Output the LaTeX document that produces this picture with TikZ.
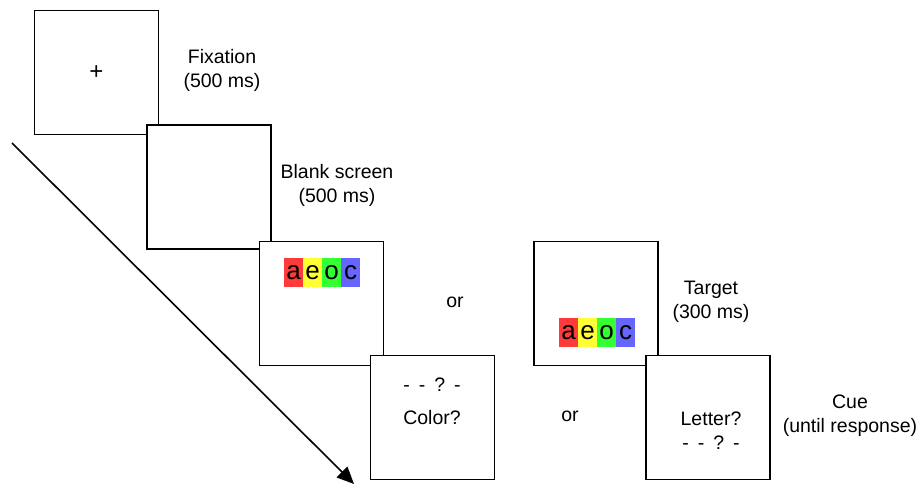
\documentclass[tikz,border=0pt]{standalone}
\usepackage{fontspec}
\setmainfont{Liberation Sans}
\usetikzlibrary{arrows.meta}
\definecolor{cred}{HTML}{FF3A3A}
\definecolor{cyel}{HTML}{FFFF33}
\definecolor{cgrn}{HTML}{33FF33}
\definecolor{cblu}{HTML}{6666FF}
\tikzset{
  screen/.style={draw=black, fill=white, line width=1.7pt, minimum size=124pt, inner sep=0pt},
  lbl/.style={font=\fontsize{19.5}{24}\selectfont, align=center, inner sep=0pt},
  cell/.style={minimum width=19pt, minimum height=29pt, inner sep=0pt, font=\fontsize{26}{26}\selectfont},
}
\newcommand{\qdash}{-\hspace{9pt}-\hspace{9pt}?\hspace{9pt}-}
\begin{document}
\begin{tikzpicture}[x=1pt,y=-1pt]
\useasboundingbox[fill=white] (0,0) rectangle (920,484);
% arrow
\coordinate (as) at (12,143);
\coordinate (ae) at (354,484);
\draw[line width=1.6pt, -{Triangle[length=17pt,width=15pt]}] (as) -- (ae);
% screens
\node[screen] (s1) at (96.5,72.5) {};
\node[lbl, font=\fontsize{24}{24}\selectfont] (plus) at (96.5,73) {+};
\node[screen] (s2) at (209,187) {};
\node[screen] (s3) at (321.5,303.5) {};
\node[screen] (s4) at (432.5,417.5) {};
\node[screen] (s5) at (596,303.5) {};
\node[screen] (s6) at (708,417.5) {};
% letter strips
\node[cell, fill=cred] (a1) at (293.5,272.5) {a};
\node[cell, fill=cyel] (e1) at (312.5,272.5) {e};
\node[cell, fill=cgrn] (o1) at (331.5,272.5) {o};
\node[cell, fill=cblu] (c1) at (350.5,272.5) {c};
\node[cell, fill=cred] (a2) at (568.5,332.5) {a};
\node[cell, fill=cyel] (e2) at (587.5,332.5) {e};
\node[cell, fill=cgrn] (o2) at (606.5,332.5) {o};
\node[cell, fill=cblu] (c2) at (625.5,332.5) {c};
% cue texts
\node[lbl] (q4) at (432,385) {\qdash};
\node[lbl] (col) at (432,418) {Color?};
\node[lbl] (let) at (711,419) {Letter?};
\node[lbl] (q6) at (711,443) {\qdash};
% labels
\node[lbl] (t1) at (222,70) {Fixation\\(500 ms)};
\node[lbl] (t2) at (337,185) {Blank screen\\(500 ms)};
\node[lbl] (or1) at (455,302) {or};
\node[lbl] (or2) at (570,416) {or};
\node[lbl] (t5) at (711,302) {Target\\(300 ms)};
\node[lbl] (t6) at (850,416) {Cue\\(until response)};
\end{tikzpicture}
\end{document}
